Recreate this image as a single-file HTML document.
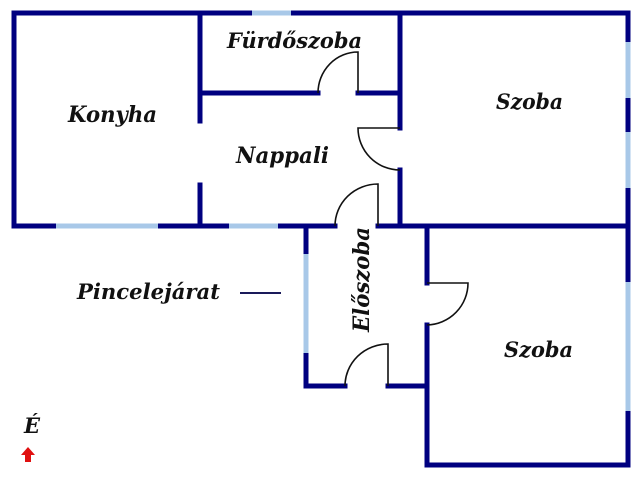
<!DOCTYPE html>
<html><head><style>
body{margin:0;background:#fff;width:640px;height:479px;overflow:hidden}
svg text{font-family:"DejaVu Serif","Liberation Serif",serif;font-weight:bold;font-style:italic;fill:#111}
</style></head><body>
<svg width="640" height="479" viewBox="0 0 640 479">
<g stroke="#000080" stroke-width="5" stroke-linecap="square" fill="none">
<path d="M14 13 H250 M293 13 H628 V40 M628 100 V130 M628 190 V226"/>
<path d="M14 13 V226 H54 M160 226 H227 M280 226 H335 M378 226 H628"/>
<path d="M200 13 V121 M200 185 V226"/>
<path d="M200 93 H318 M358 93 H400"/>
<path d="M400 13 V128 M400 170 V226"/>
<path d="M306 226 V252 M306 355 V386 H345 M388 386 H427"/>
<path d="M427 226 V283 M427 325 V465 H628 V413 M628 280 V226"/>
</g>
<g stroke="#a8c8e8" stroke-width="5" fill="none">
<path d="M252 13 H291 M628 42 V98 M628 132 V188 M56 226 H158 M229 226 H278 M306 254 V353 M628 282 V411"/>
</g>
<g stroke="#111" stroke-width="1.6" fill="none">
<path d="M318 93 A40 41 0 0 1 358 52 V93"/>
<path d="M400 128 H358 A42 42 0 0 0 400 170"/>
<path d="M335 226 A43 42 0 0 1 378 184 V226"/>
<path d="M345 386 A43 42 0 0 1 388 344 V386"/>
<path d="M427 283 H468 A42 42 0 0 1 427 325"/>
</g>
<line x1="240" y1="293" x2="281" y2="293" stroke="#1a1a5a" stroke-width="2"/>
<text x="227" y="48" font-size="21" textLength="135" lengthAdjust="spacingAndGlyphs">Fürdőszoba</text>
<text x="68" y="122" font-size="22" textLength="89" lengthAdjust="spacingAndGlyphs">Konyha</text>
<text x="496" y="109" font-size="21" textLength="67" lengthAdjust="spacingAndGlyphs">Szoba</text>
<text x="236" y="163" font-size="22" textLength="93" lengthAdjust="spacingAndGlyphs">Nappali</text>
<text x="77" y="299" font-size="21" textLength="143" lengthAdjust="spacingAndGlyphs">Pincelejárat</text>
<text x="504" y="357" font-size="21" textLength="69" lengthAdjust="spacingAndGlyphs">Szoba</text>
<text transform="translate(369,332) rotate(-90)" font-size="22" textLength="105" lengthAdjust="spacingAndGlyphs">Előszoba</text>
<text x="24" y="433" font-size="21">É</text>
<path d="M28 447 L35 455 H31 V462 H25 V455 H21 Z" fill="#e01010"/>
</svg>
</body></html>
